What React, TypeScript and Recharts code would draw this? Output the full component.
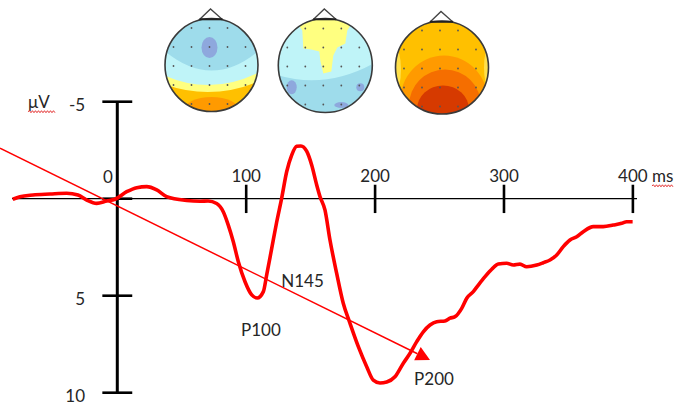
import React from 'react';
import { LineChart, Line, XAxis, YAxis, ReferenceLine, ReferenceDot, Customized } from 'recharts';

// ---- data ----
const timeMs = [-81.1, -75.5, -65.4, -52.2, -39.3, -30.5, -23.7, -16.0, -8.2, -1.8, 7.3, 15.1, 22.8, 30.6, 38.3, 53.8, 64.2, 70.4, 77.1, 82.2, 86.1, 90.0, 93.9, 99.1, 104.3, 108.6, 113.3, 115.9, 119.8, 123.7, 127.5, 131.4, 135.3, 139.2, 142.5, 146.9, 150.8, 154.7, 157.3, 161.1, 165.0, 170.2, 175.3, 180.5, 187.0, 193.5, 198.6, 203.8, 209.0, 215.4, 221.9, 227.1, 232.3, 237.4, 242.6, 247.8, 254.2, 258.1, 262.0, 267.2, 271.1, 276.2, 280.1, 285.3, 290.5, 295.6, 302.1, 307.2, 312.4, 317.6, 325.4, 330.5, 335.7, 340.9, 346.0, 351.2, 356.4, 361.5, 369.3, 377.0, 384.8, 391.3, 395.2, 399.8];
const amplitudeUv = [0.03, -0.10, -0.19, -0.24, -0.28, -0.19, 0.07, 0.24, 0.12, 0.03, -0.36, -0.57, -0.62, -0.45, -0.11, 0.09, 0.13, 0.12, 0.25, 0.67, 1.36, 2.22, 3.25, 4.28, 4.96, 5.12, 4.79, 3.93, 2.56, 1.19, -0.02, -1.39, -2.25, -2.70, -2.72, -2.45, -1.74, -0.71, -0.10, 0.58, 2.13, 3.85, 5.39, 6.42, 7.63, 8.66, 9.35, 9.50, 9.45, 9.18, 8.48, 7.97, 7.37, 6.86, 6.51, 6.34, 6.30, 6.16, 6.08, 5.65, 5.13, 4.79, 4.45, 4.02, 3.64, 3.37, 3.33, 3.42, 3.37, 3.51, 3.42, 3.30, 3.16, 2.90, 2.47, 2.13, 1.96, 1.70, 1.44, 1.44, 1.36, 1.27, 1.19, 1.19];
const xTicks = [100, 200, 300, 400];
const xTickLabels = ['100', '200', '300', '400'];
const yTicks = [-5, 0, 5, 10];
const yTickLabels = ['-5', '', '5', '10'];
const peakNames = ['P100', 'N145', 'P200'];

const table = timeMs.map((t, i) => ({ t, v: amplitudeUv[i] }));

// ---- layout ----
const X_DOMAIN: [number, number] = [-91, 435];
const Y_DOMAIN: [number, number] = [-5, 10];
const peakLabelPos = [
  { x: 111.4, y: 6.77 },
  { x: 143.7, y: 4.24 },
  { x: 245.7, y: 9.27 },
];
const arrowSeg = [{ x: -91, y: -2.6 }, { x: 242.6, y: 8.31 }];
const FONT = 'Lato, "Open Sans", sans-serif';
const TXT = '#262626';

const squiggle = (x0: number, x1: number, y: number) => {
  let d = `M ${x0},${y}`;
  let up = true;
  for (let x = x0 + 1.5; x <= x1; x += 1.5) {
    d += ` L ${x},${y + (up ? -1 : 1)}`;
    up = !up;
  }
  return <path d={d} fill="none" stroke="#E02020" strokeWidth={0.9} />;
};

const textShape = (txt: string, anchor: 'start' | 'middle' | 'end', wavy?: number) => (p: any) => (
  <g>
    <text x={p.cx} y={p.cy + 6} textAnchor={anchor} fontFamily={FONT} fontSize={17} fill={TXT}>{txt}</text>
    {wavy ? squiggle(p.cx, p.cx + wavy, p.cy + 10) : null}
  </g>
);

const arrowShape = (p: any) => {
  const { x1, y1, x2, y2 } = p;
  const dx = x2 - x1, dy = y2 - y1;
  const len = Math.hypot(dx, dy);
  const ux = dx / len, uy = dy / len;
  const L = 14, W = 7.4;
  const bx = x2 - ux * L, by = y2 - uy * L;
  return (
    <g>
      <line x1={x1} y1={y1} x2={bx} y2={by} stroke="#FF0000" strokeWidth={1.5} />
      <polygon points={`${x2},${y2} ${bx - uy * W},${by + ux * W} ${bx + uy * W},${by - ux * W}`} fill="#FF0000" />
    </g>
  );
};

// ---- decorative scalp maps ----
const LBLUE = '#9EDCEB', CYAN = '#BFF4F8', PURP = '#8EA8DD', YEL = '#FFFF80', AMB = '#FFC000', ORG = '#FF9A00';
const rowOff = [-37, -18, 1, 20, 39];
const colOff = [-38, -20, -2, 16, 34];
const rowCols = [[1, 2, 3], [0, 1, 2, 3, 4], [0, 1, 2, 3, 4], [0, 1, 2, 3, 4], [1, 2, 3]];

const Head = ({ cx, cy, r, id, children }: any) => (
  <g>
    <defs>
      <clipPath id={id}><circle cx={cx} cy={cy} r={r} /></clipPath>
    </defs>
    <polygon points={`${cx - 12.5},${cy - r + 1.5} ${cx - 1},${cy - r - 9.5} ${cx + 11.5},${cy - r + 1.5}`} fill="#fff" stroke="#444" strokeWidth={1.3} />
    <g clipPath={`url(#${id})`}>
      <g transform={`translate(${cx},${cy})`}>{children}</g>
    </g>
    <circle cx={cx} cy={cy} r={r} fill="none" stroke="#3a3a3a" strokeWidth={1.6} />
    <line x1={cx - 12} y1={cy - r + 0.8} x2={cx + 11} y2={cy - r + 0.8} stroke="#222" strokeWidth={2} />
    {rowCols.map((cols, ri) => cols.map((ci) => (
      <circle key={`${ri}-${ci}`} cx={cx + colOff[ci]} cy={cy + rowOff[ri]} r={0.9} fill="#555" />
    )))}
  </g>
);

const TopoMaps = () => (
  <g>
    <Head cx={211.5} cy={65} r={46.5} id="topo1">
      <rect x={-60} y={-60} width={120} height={120} fill={LBLUE} />
      <ellipse cx={-2} cy={-17.5} rx={8} ry={10.5} fill={PURP} />
      <path d="M -48,-15 Q 0,26 48,-15 L 48,60 L -48,60 Z" fill={CYAN} />
      <path d="M -48,10 Q 0,31.5 48,7 L 48,60 L -48,60 Z" fill={YEL} />
      <path d="M -48,19 Q 0,36.5 48,16 L 48,60 L -48,60 Z" fill={AMB} />
      <ellipse cx={0} cy={46} rx={28} ry={14} fill={ORG} />
    </Head>
    <Head cx={325.3} cy={65.5} r={47} id="topo2">
      <rect x={-60} y={-60} width={120} height={120} fill={CYAN} />
      <polygon points="-25,-60 30,-60 28,-45 22,-35 20,-22 12,-18 8,-10 6,6 -2,8 -5,-5 -6,-14 -14,-16 -22,-17 -23,-35 -30,-45" fill={YEL} />
      <path d="M -48,9.5 Q 0,24 48,-2 L 48,60 L -48,60 Z" fill={LBLUE} />
      <ellipse cx={-33.6} cy={21.8} rx={5} ry={7} fill={PURP} />
      <ellipse cx={16} cy={39.5} rx={7} ry={3} fill={PURP} />
      <ellipse cx={35} cy={21.8} rx={4} ry={4} fill={PURP} />
    </Head>
    <Head cx={442} cy={67.5} r={46.5} id="topo3">
      <rect x={-60} y={-60} width={120} height={120} fill={AMB} />
      <ellipse cx={-47} cy={2} rx={6} ry={22} fill="#FFE04A" />
      <ellipse cx={47} cy={0} rx={5} ry={20} fill="#FFE04A" />
      <ellipse cx={2} cy={34} rx={44} ry={46} fill={ORG} />
      <ellipse cx={3} cy={38} rx={36} ry={36} fill="#F56E00" />
      <ellipse cx={1} cy={42} rx={26} ry={24} fill="#D63A00" />
    </Head>
  </g>
);

export default function App() {
  return (
    <div style={{ position: 'absolute', left: 0, top: 0, width: 678, height: 405, background: '#fff' }}>
      <LineChart width={678} height={405} data={table} margin={{ top: 101.7, right: 0, bottom: 12.3, left: 0 }}>
        <XAxis dataKey="t" type="number" domain={X_DOMAIN} allowDataOverflow hide height={0} />
        <YAxis type="number" domain={Y_DOMAIN} reversed allowDataOverflow hide width={0} />
        <Customized component={TopoMaps} />
        {/* horizontal time axis */}
        <ReferenceLine segment={[{ x: -81.7, y: 0 }, { x: 403.2, y: 0 }]} stroke="#000" strokeWidth={1.3} ifOverflow="visible" />
        {/* vertical amplitude axis */}
        <ReferenceLine segment={[{ x: 0, y: Y_DOMAIN[0] }, { x: 0, y: Y_DOMAIN[1] }]} stroke="#000" strokeWidth={3} ifOverflow="visible" />
        {xTicks.map((t) => (
          <ReferenceLine key={`xt${t}`} segment={[{ x: t, y: -0.72 }, { x: t, y: 0.74 }]} stroke="#000" strokeWidth={2.6} ifOverflow="visible" />
        ))}
        {yTicks.map((v) => (
          <ReferenceLine key={`yt${v}`} segment={[{ x: -11.6, y: v }, { x: 11.6, y: v }]} stroke="#000" strokeWidth={2.6} ifOverflow="visible" />
        ))}
        {xTicks.map((t, i) => (
          <ReferenceDot key={`xl${t}`} x={t} y={-1.18} r={0} ifOverflow="visible" shape={textShape(xTickLabels[i], 'middle')} />
        ))}
        <ReferenceDot x={-7.2} y={-1.13} r={0} ifOverflow="visible" shape={textShape('0', 'middle')} />
        <ReferenceDot x={414.8} y={-1.18} r={0} ifOverflow="visible" shape={textShape('ms', 'start', 21)} />
        {yTicks.map((v, i) => yTickLabels[i] ? (
          <ReferenceDot key={`yl${v}`} x={-25} y={v + 0.17} r={0} ifOverflow="visible" shape={textShape(yTickLabels[i], 'end')} />
        ) : null)}
        <ReferenceDot x={-69.3} y={-5.0} r={0} ifOverflow="visible" shape={textShape('μV', 'start', 27)} />
        <Line dataKey="v" type="monotone" stroke="#FF0000" strokeWidth={3.6} dot={false} isAnimationActive={false} strokeLinejoin="round" />
        <ReferenceLine segment={arrowSeg} ifOverflow="visible" shape={arrowShape} />
        {peakNames.map((n, i) => (
          <ReferenceDot key={n} x={peakLabelPos[i].x} y={peakLabelPos[i].y} r={0} ifOverflow="visible" shape={textShape(n, 'middle')} />
        ))}
      </LineChart>
    </div>
  );
}
